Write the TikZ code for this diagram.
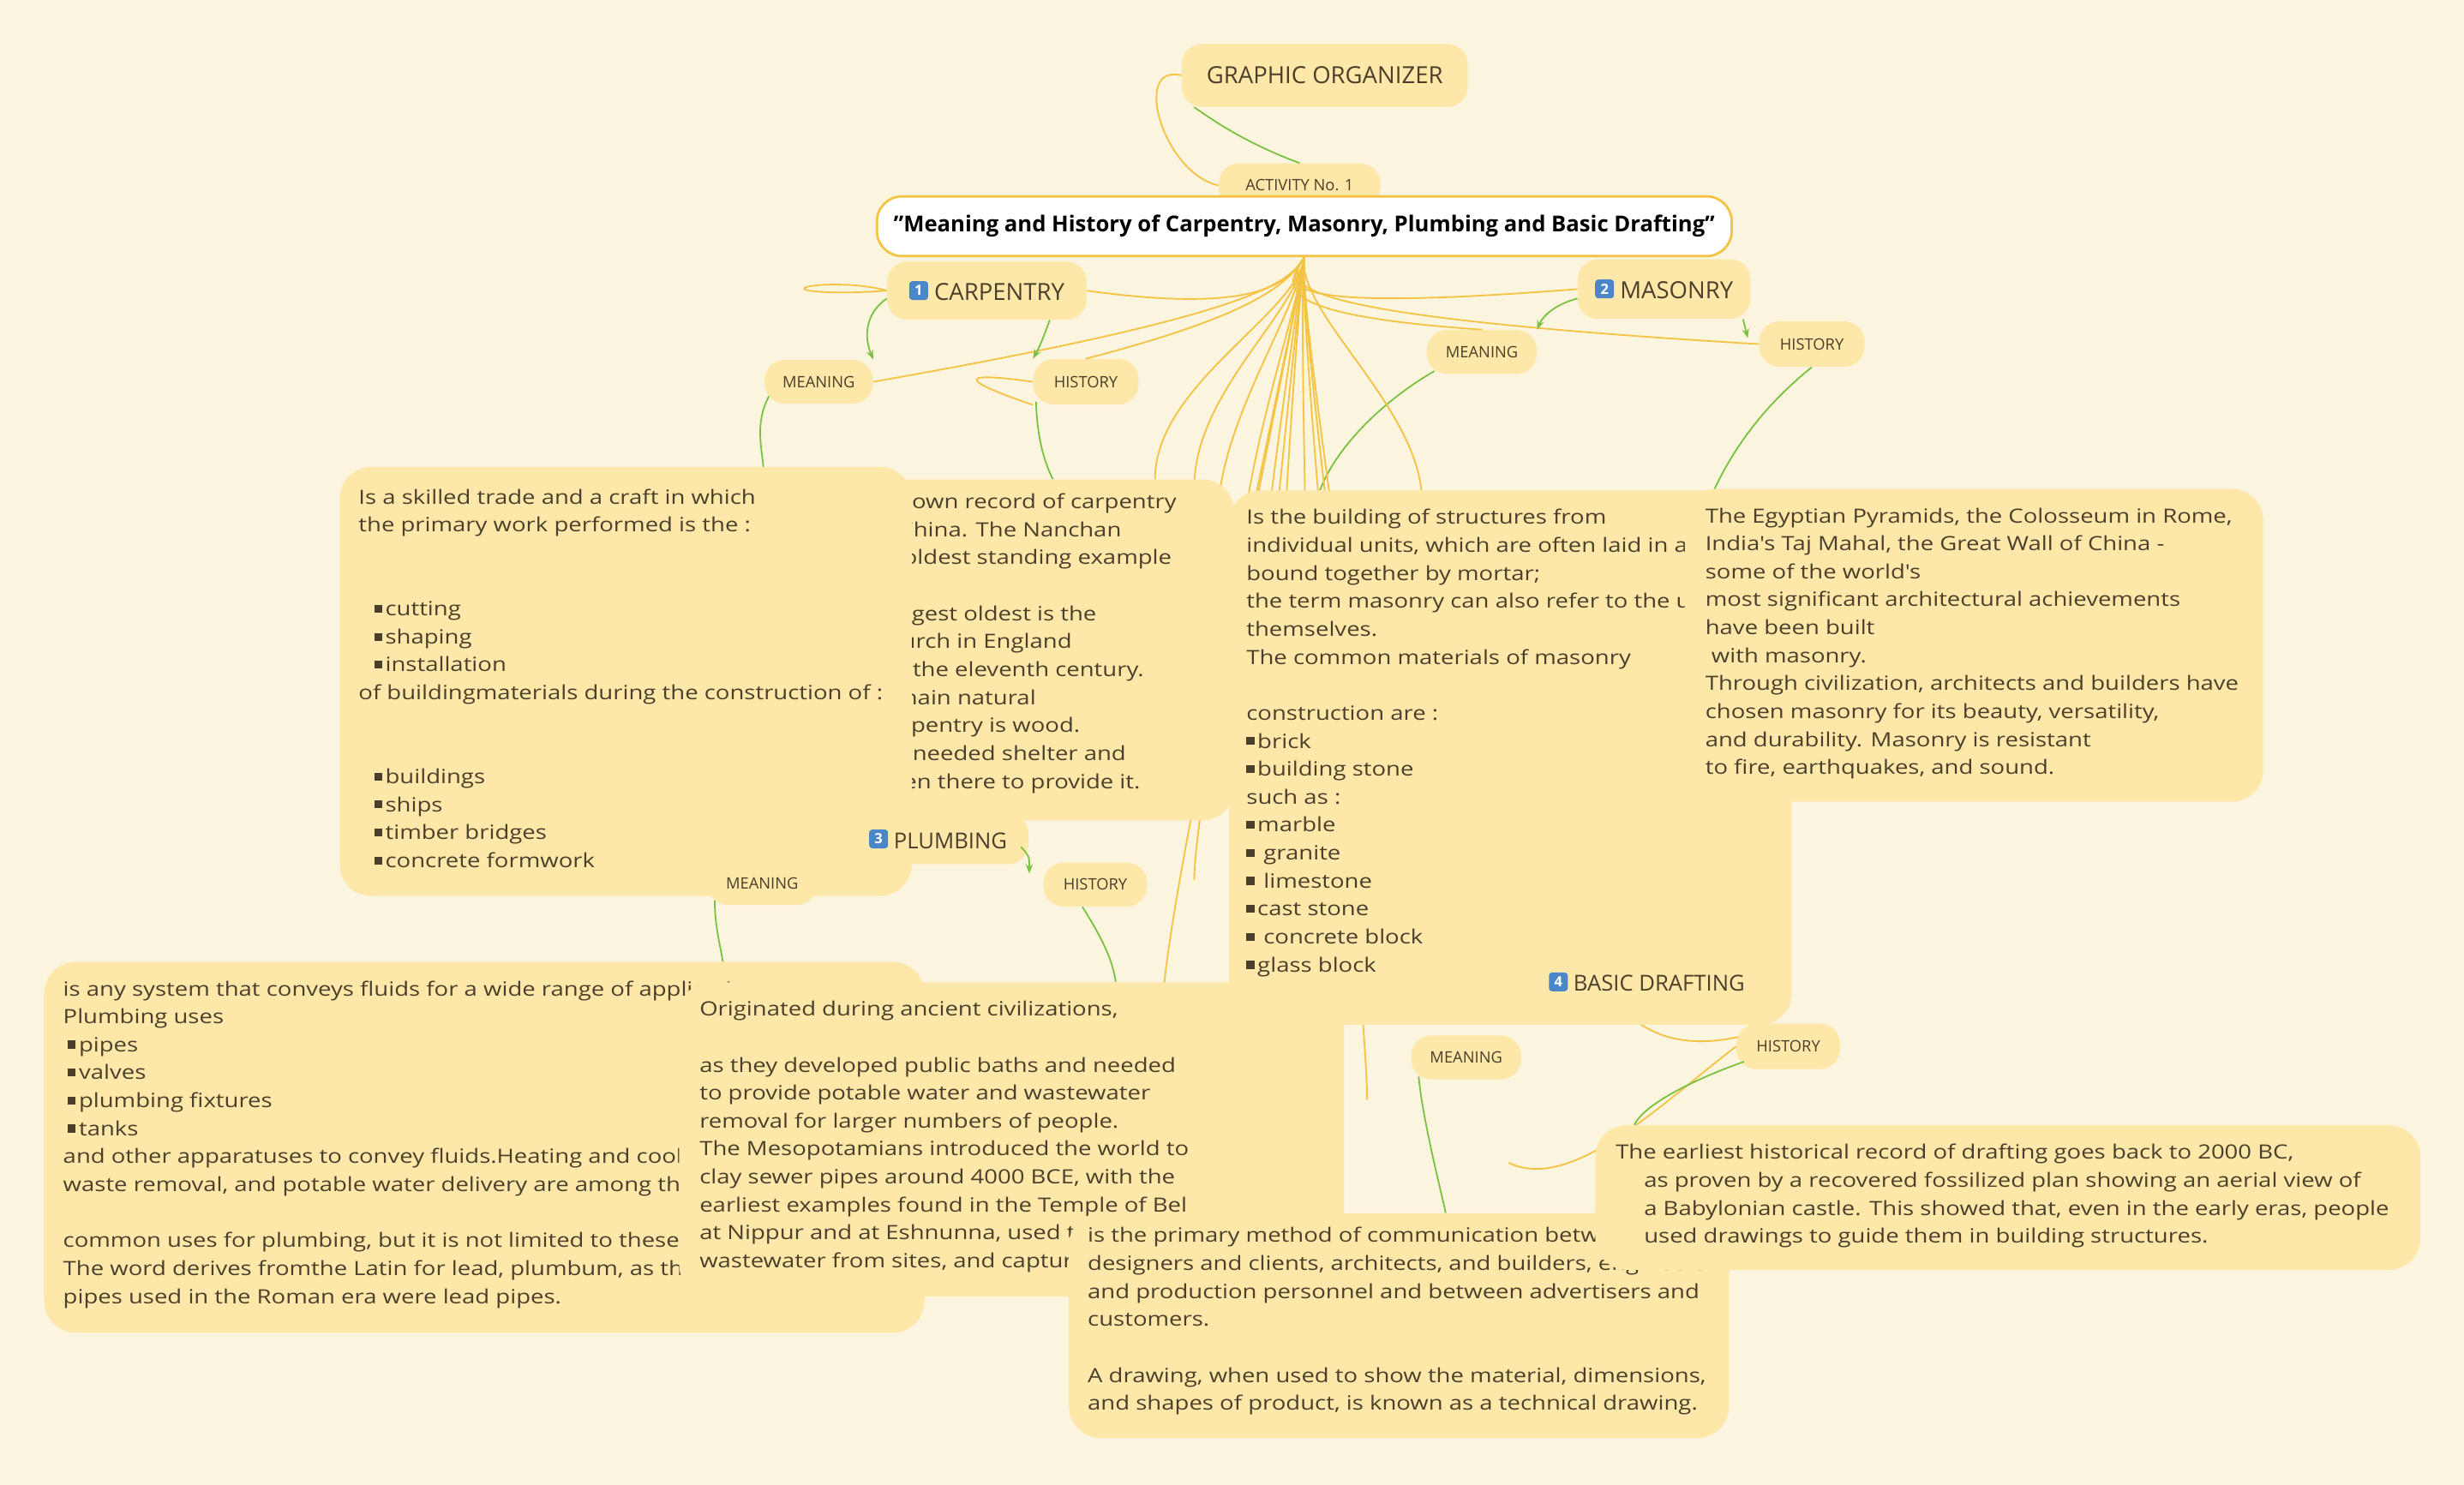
\documentclass[tikz,border=0pt]{standalone}
\usepackage{fontspec}
\setmainfont{Open Sans}
\newfontfamily\bodyfont[FakeStretch=1.2]{Open Sans}
\usetikzlibrary{arrows.meta}
\definecolor{bgc}{HTML}{FBF4DE}
\definecolor{boxc}{HTML}{FDE8A9}
\definecolor{orl}{HTML}{F5C343}
\definecolor{grl}{HTML}{7CC242}
\definecolor{txc}{HTML}{4A3F2A}
\definecolor{keyc}{HTML}{4A86C8}
\newcommand{\bl}{\raisebox{2pt}{\rule{5pt}{5pt}}\hspace{2pt}}
\tikzset{
 box/.style={fill=boxc,rounded corners=20pt,anchor=north west,inner sep=0pt},
 txt/.style={anchor=north west,align=left,inner sep=0pt,text=txc,font=\bodyfont\fontsize{12.5}{17.8}\selectfont},
 pill/.style={fill=boxc,rounded corners=13pt,text=txc,inner sep=0pt},
 small/.style={pill,font=\fontsize{10}{12}\selectfont},
 cat/.style={pill,font=\fontsize{15}{18}\selectfont},
 keycap/.style={fill=keyc,rounded corners=2pt,text=white,font=\fontsize{9}{10}\bfseries\selectfont,minimum size=12pt,inner sep=0pt},
 oline/.style={draw=orl,line width=1pt},
 gline/.style={draw=grl,line width=1pt},
 garr/.style={gline,-{Stealth[length=6pt]}},
}
\begin{document}
\begin{tikzpicture}[x=1pt,y=-1pt]
\fill[bgc] (0,0) rectangle (1568,945);
\useasboundingbox (0,0) rectangle (1568,945);
% pills
\node[pill,minimum width=182pt,minimum height=40pt,font=\fontsize{15}{18}\selectfont] (go) at (843,48) {GRAPHIC ORGANIZER};
\node[small,minimum width=103pt,minimum height=28pt] (act) at (827,118) {ACTIVITY No. 1};
\node[draw=orl,line width=1.5pt,fill=white,rounded corners=16pt,minimum width=544pt,minimum height=38pt,font=\fontsize{14}{16}\bfseries\selectfont,inner sep=0pt] (title) at (830,144) {"Meaning and History of Carpentry, Masonry, Plumbing and Basic Drafting"};
\node[cat,minimum width=127pt,minimum height=37pt] (carp) at (628,185) {\tikz\node[keycap]{1};\ CARPENTRY};
\node[cat,minimum width=110pt,minimum height=38pt] (mas) at (1059,184) {\tikz\node[keycap]{2};\ MASONRY};
\node[small,minimum width=69pt,minimum height=28pt] (cm) at (521,243) {MEANING};
\node[small,minimum width=67pt,minimum height=29pt] (ch) at (691,243) {HISTORY};
\node[small,minimum width=70pt,minimum height=28pt] (mm) at (943,224) {MEANING};
\node[small,minimum width=67pt,minimum height=29pt] (mh) at (1153,219) {HISTORY};
\node[small,minimum width=70pt,minimum height=28pt] (dm) at (933,673) {MEANING};
\node[small,minimum width=66pt,minimum height=29pt] (dh) at (1138,666) {HISTORY};
% connectors
\draw[oline] (go.west) .. controls (720,40) and (740,110) .. (act.west);
\draw[gline] (go.south west) ++(8,0) .. controls (770,75) and (790,90) .. (act.north);
\foreach \t in {carp.east,cm.east,ch.north,mas.west,mm.north,mh.west}
  \draw[oline] (title.south) .. controls (820,180) and (800,200) .. (\t);
\draw[oline] (carp.west) .. controls (540,178) and (500,182) .. (515,185) .. controls (530,187) and (550,186) .. (carp.west);
\draw[garr] (carp.west) ++(0,5) .. controls (550,200) and (550,215) .. (cm.north east);
\draw[garr] (carp.south) ++(40,0) .. controls (665,212) and (662,220) .. (ch.north west);
\draw[garr] (mas.west) ++(0,6) .. controls (985,195) and (980,205) .. (mm.north east);
\draw[garr] (mas.south east) ++(-5,0) -- ++(3,12);
\draw[gline] (cm.south west) ++(3,-5) .. controls (480,270) and (485,285) .. (486,300);
\draw[gline] (ch.south west) ++(2,-2) .. controls (660,280) and (665,295) .. (670,305);
\draw[gline] (mm.south west) ++(5,-2) .. controls (880,255) and (850,285) .. (840,312);
\draw[gline] (mh.south) .. controls (1120,260) and (1100,290) .. (1088,318);
\draw[oline] (ch.west) .. controls (600,235) and (620,245) .. (ch.south west);
\foreach \tx/\ty in {735/305,760/310,775/330,790/360,800/420,810/500,760/560,740/640,780/700,840/720,870/700,885/620,905/320,880/650}
  \draw[oline] (title.south) .. controls (825,200) and (\tx,{\ty-60}) .. (\tx,\ty);
\draw[oline] (1106,660) .. controls (1060,670) and (1040,650) .. (1030,640);
\draw[oline] (dh.west) .. controls (1060,700) and (1000,760) .. (960,740);
\draw[gline] (dm.south west) ++(5,-2) .. controls (905,710) and (915,750) .. (920,772);
\draw[gline] (dh.south west) ++(5,-5) .. controls (1070,690) and (1045,705) .. (1040,716);
% carpentry history
\node[box,minimum width=319pt,minimum height=217pt] (chb) at (466,305) {};
\node[txt] (cht) at (478,314) {The earliest known record of carpentry\\was found in China. The Nanchan\\Temple is the oldest standing example\\of carpentry.\\The second largest oldest is the\\Greensted Church in England\\dating back to the eleventh century.\\The first and main natural\\material of carpentry is wood.\\People always needed shelter and\\carpenters been there to provide it.};
% carpentry meaning
\node[box,minimum width=364pt,minimum height=273pt] (cmb) at (216,297) {};
\node[txt] (cmt) at (228,311) {Is a skilled trade and a craft in which\\the primary work performed is the :\\[35.6pt]
\hspace*{10pt}\bl cutting\\\hspace*{10pt}\bl shaping\\\hspace*{10pt}\bl installation\\of buildingmaterials during the construction of :\\[35.6pt]
\hspace*{10pt}\bl buildings\\\hspace*{10pt}\bl ships\\\hspace*{10pt}\bl timber bridges\\\hspace*{10pt}\bl concrete formwork};
% plumbing pills
\node[cat,minimum width=115pt,minimum height=32pt,font=\fontsize{14}{16}\selectfont] (plu) at (597,534) {\tikz\node[keycap]{3};\ PLUMBING};
\node[small,minimum width=70pt,minimum height=28pt] (pm) at (485,562) {MEANING};
\node[small,minimum width=66pt,minimum height=28pt] (ph) at (697,563) {HISTORY};
\draw[garr] (plu.east) ++(-5,5) .. controls (655,545) .. (655,556);
\draw[gline] (pm.south west) ++(5,-3) .. controls (455,590) and (458,600) .. (460,612);
\draw[gline] (ph.south west) ++(25,0) .. controls (700,595) and (708,610) .. (710,625);
% masonry meaning
\node[box,minimum width=358pt,minimum height=340pt] (mmb) at (782,312) {};
\node[txt] (mmt) at (793,324) {Is the building of structures from\\individual units, which are often laid in and\\bound together by mortar;\\the term masonry can also refer to the units\\themselves.\\The common materials of masonry\\[17.8pt]construction are :\\
\bl brick\\\bl building stone\\such as :\\\bl marble\\\bl\ granite\\\bl\ limestone\\\bl cast stone\\\bl\ concrete block\\\bl glass block};
% masonry history
\node[box,minimum width=368pt,minimum height=199pt] (mhb) at (1072,311) {};
\node[txt] (mht) at (1085,323) {The Egyptian Pyramids, the Colosseum in Rome,\\India's Taj Mahal, the Great Wall of China -\\some of the world's\\most significant architectural achievements\\have been built\\\ with masonry.\\Through civilization, architects and builders have\\chosen masonry for its beauty, versatility,\\and durability. Masonry is resistant\\to fire, earthquakes, and sound.};
\node[cat,minimum width=162pt,minimum height=31pt,font=\fontsize{14}{16}\selectfont] (draft) at (1048,625) {\tikz\node[keycap]{4};\ BASIC DRAFTING};
% plumbing meaning
\node[box,minimum width=560pt,minimum height=236pt] (pmb) at (28,612) {};
\node[txt] (pmt) at (40,624) {is any system that conveys fluids for a wide range of applications.\\Plumbing uses\\
\hspace*{3pt}\bl pipes\\\hspace*{3pt}\bl valves\\\hspace*{3pt}\bl plumbing fixtures\\\hspace*{3pt}\bl tanks\\
and other apparatuses to convey fluids.Heating and cooling (HVAC),\\waste removal, and potable water delivery are among the most\\[17.8pt]
common uses for plumbing, but it is not limited to these applications.\\The word derives fromthe Latin for lead, plumbum, as the first effective\\pipes used in the Roman era were lead pipes.};
% plumbing history
\node[box,minimum width=423pt,minimum height=200pt] (phb) at (432,625) {};
\node[txt] (pht) at (445,637) {Originated during ancient civilizations,\\[17.8pt]
as they developed public baths and needed\\to provide potable water and wastewater\\removal for larger numbers of people.\\The Mesopotamians introduced the world to\\clay sewer pipes around 4000 BCE, with the\\earliest examples found in the Temple of Bel\\at Nippur and at Eshnunna, used to remove\\wastewater from sites, and capture rainwater, in wells.};
% drafting meaning
\node[box,minimum width=420pt,minimum height=143pt] (dmb) at (680,772) {};
\node[txt] (dmt) at (692,781) {is the primary method of communication between\\designers and clients, architects, and builders, engineers\\and production personnel and between advertisers and\\customers.\\[17.8pt]
A drawing, when used to show the material, dimensions,\\and shapes of product, is known as a technical drawing.};
% drafting history
\node[box,minimum width=525pt,minimum height=92pt] (dhb) at (1015,716) {};
\node[txt] (dht) at (1028,728) {The earliest historical record of drafting goes back to 2000 BC,\\\hspace*{18pt}as proven by a recovered fossilized plan showing an aerial view of\\\hspace*{18pt}a Babylonian castle. This showed that, even in the early eras, people\\\hspace*{18pt}used drawings to guide them in building structures.};
\end{tikzpicture}
\end{document}
